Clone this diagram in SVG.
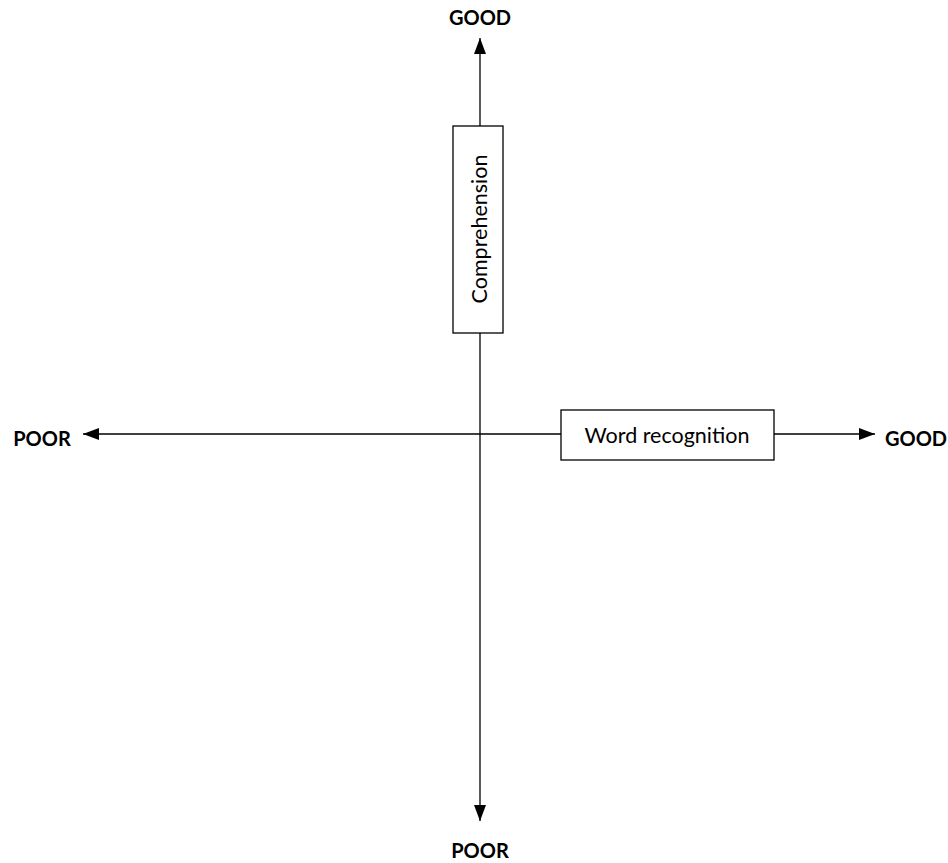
<svg xmlns="http://www.w3.org/2000/svg" width="948" height="863" viewBox="0 0 948 863">
<style>
.ax{stroke:#000;stroke-width:1.3;fill:none}
.box{fill:#fff;stroke:#000;stroke-width:1.3}
.lbl{font-family:Lato,"Open Sans",sans-serif;font-weight:bold;font-size:20px;fill:#000}
.t{font-family:Lato,"Open Sans",sans-serif;font-size:21.5px;fill:#000}
</style>
<defs>
<marker id="ahb" viewBox="0 0 16 12" refX="16" refY="6" markerWidth="16" markerHeight="12" markerUnits="userSpaceOnUse" orient="auto">
<path d="M0,0 L16,6 L0,12 z" fill="#000"/>
</marker>
</defs>
<g id="connectors">
<line class="ax" x1="480" y1="435" x2="480" y2="38" marker-end="url(#ahb)"/>
<line class="ax" x1="480" y1="435" x2="480" y2="821" marker-end="url(#ahb)"/>
<line class="ax" x1="480" y1="434" x2="83" y2="434" marker-end="url(#ahb)"/>
<line class="ax" x1="480" y1="434" x2="875" y2="434" marker-end="url(#ahb)"/>
</g>
<g id="comprehension">
<rect class="box" x="453" y="126" width="50" height="207"/>
<text class="t" transform="translate(487,229) rotate(-90)" text-anchor="middle">Comprehension</text>
</g>
<g id="word-recognition">
<rect class="box" x="561" y="410" width="213" height="50"/>
<text class="t" x="667" y="443" text-anchor="middle">Word recognition</text>
</g>
<g id="labels">
<text class="lbl" x="480" y="25" text-anchor="middle">GOOD</text>
<text class="lbl" x="480" y="858" text-anchor="middle">POOR</text>
<text class="lbl" x="42" y="446" text-anchor="middle">POOR</text>
<text class="lbl" x="916" y="446" text-anchor="middle">GOOD</text>
</g>
</svg>
